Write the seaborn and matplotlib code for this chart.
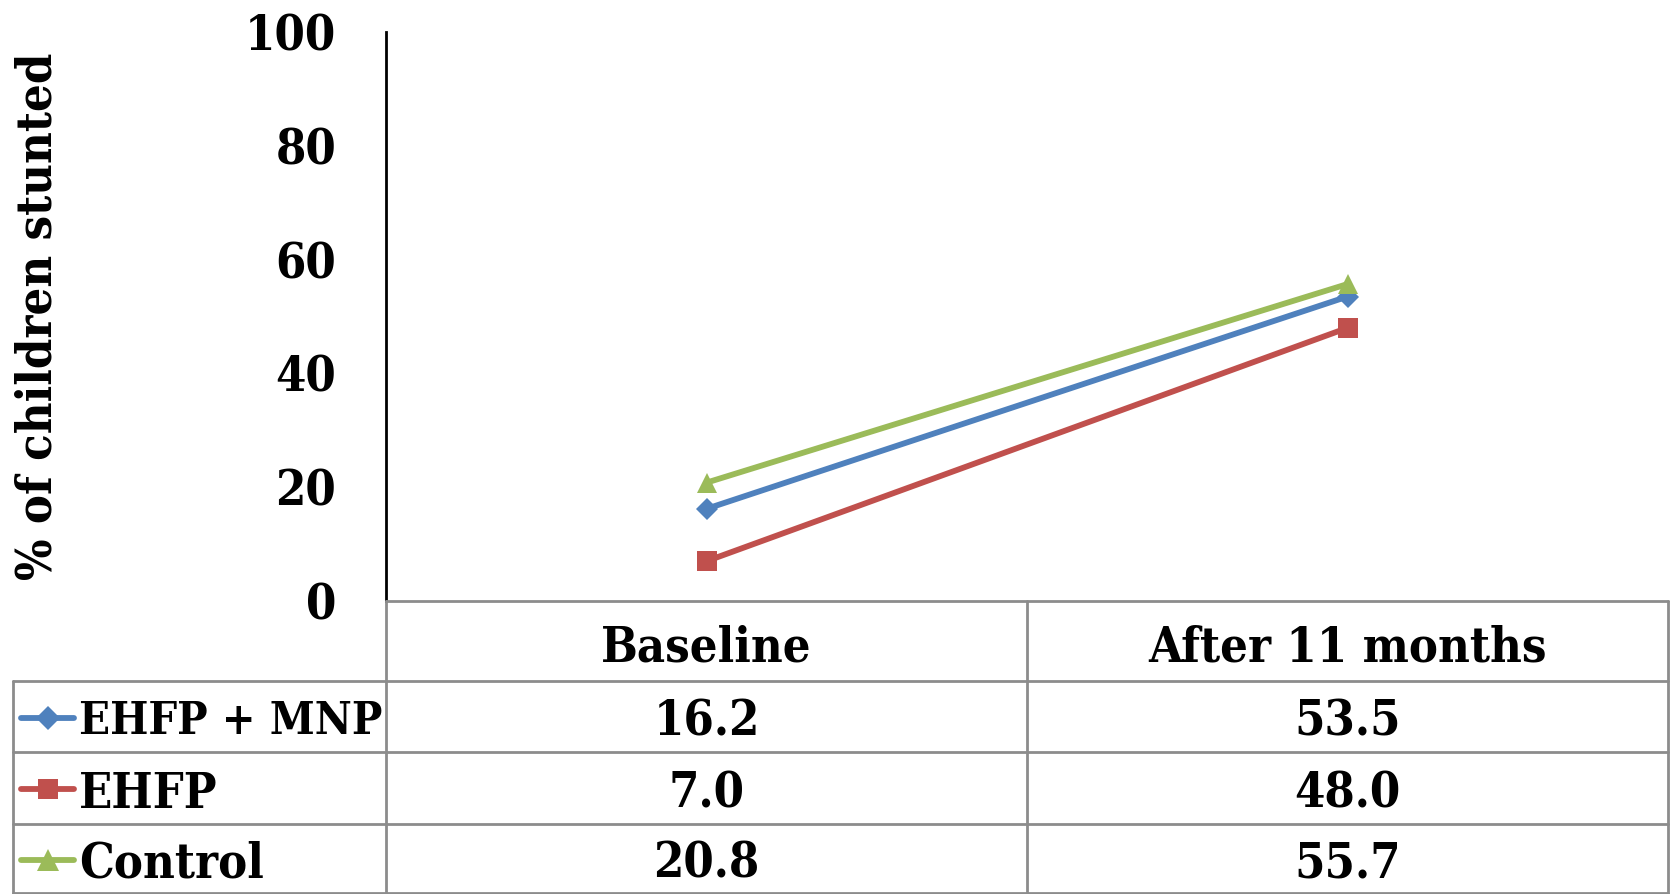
import matplotlib
matplotlib.use("Agg")
import matplotlib.pyplot as plt
from matplotlib.lines import Line2D
import seaborn as sns
import pandas as pd

# Data
periods = ["Baseline", "After 11 months"]
groups = ["EHFP + MNP", "EHFP", "Control"]
ehfp_mnp = [16.2, 53.5]
ehfp = [7.0, 48.0]
control = [20.8, 55.7]
y_ticks = [0, 20, 40, 60, 80, 100]

colors = {"EHFP + MNP": "#4F81BD", "EHFP": "#C0504D", "Control": "#9BBB59"}
markers = {"EHFP + MNP": "D", "EHFP": "s", "Control": "^"}
msizes = {"EHFP + MNP": 11.5, "EHFP": 14, "Control": 15}

df = pd.DataFrame({
    "period": list(range(len(periods))) * 3,
    "value": ehfp_mnp + ehfp + control,
    "group": [g for g in groups for _ in periods],
})

sns.set_theme(style="white")
plt.rcParams["font.family"] = ["DejaVu Serif"]
plt.rcParams["font.weight"] = "bold"
plt.rcParams["text.color"] = "black"
plt.rcParams["axes.labelcolor"] = "black"
plt.rcParams["ytick.color"] = "black"

W, H = 1671, 894
fig = plt.figure(figsize=(W / 100, H / 100), dpi=100)

# pixel layout of the plot area
x0, x1 = 386, 1668
y_top, y_bot = 32, 601
ax = fig.add_axes([x0 / W, (H - y_bot) / H, (x1 - x0) / W, (y_bot - y_top) / H])

for g in groups:
    sub = df[df["group"] == g]
    sns.lineplot(data=sub, x="period", y="value", ax=ax, color=colors[g],
                 marker=markers[g], markersize=msizes[g], markeredgewidth=0,
                 linewidth=4.2, legend=False)

ax.set_xlim(-0.5, len(periods) - 0.5)
ax.set_ylim(0, 100)
ax.set_yticks(y_ticks)
ax.set_yticklabels([str(t) for t in y_ticks], fontsize=35, fontweight="bold",
                   fontstretch="condensed", color="black")
ax.tick_params(axis="y", length=0, pad=36)
ax.set_xticks([])
ax.set_xlabel("")
ax.set_ylabel("% of children stunted", fontsize=35, fontweight="bold",
              fontstretch="condensed", labelpad=0, color="black")
ax.yaxis.set_label_coords(-0.253, 0.5)
for s in ["top", "right"]:
    ax.spines[s].set_visible(False)
ax.spines["left"].set_color("black")
ax.spines["left"].set_linewidth(2)
ax.spines["bottom"].set_visible(False)

# data table below the plot area
tab = fig.add_axes([0, 0, 1, 1])
tab.set_xlim(0, W)
tab.set_ylim(H, 0)
tab.axis("off")
tab.patch.set_alpha(0)

gc = "#8C8C8C"
lw = 2
tl = 13
mid = (x0 + x1) / 2
rows = [601, 681, 752, 824, 893]
# horizontal rules
tab.plot([x0, x1], [rows[0], rows[0]], color=gc, lw=lw)
for r in rows[1:]:
    tab.plot([tl, x1], [r, r], color=gc, lw=lw)
# vertical rules
tab.plot([tl, tl], [rows[1], rows[-1]], color=gc, lw=lw)
for xv in [x0, mid, x1]:
    tab.plot([xv, xv], [rows[0], rows[-1]], color=gc, lw=lw)

col_centers = [(x0 + mid) / 2, (mid + x1) / 2]
txt = dict(fontweight="bold", fontstretch="condensed", color="black",
           va="center_baseline")
for c, p in zip(col_centers, periods):
    tab.text(c, (rows[0] + rows[1]) / 2 + 2, p, ha="center", fontsize=35, **txt)

label_sizes = {"EHFP + MNP": 32.5, "EHFP": 35, "Control": 35}
series = [ehfp_mnp, ehfp, control]
for i, (g, vals) in enumerate(zip(groups, series)):
    yc = (rows[i + 1] + rows[i + 2]) / 2 + 1
    tab.add_line(Line2D([21, 74], [yc, yc], color=colors[g], lw=4.2,
                        solid_capstyle="round"))
    tab.add_line(Line2D([47.5], [yc], color=colors[g], marker=markers[g],
                        markersize=msizes[g] + 1, markeredgewidth=0))
    tab.text(79, yc, g, ha="left", fontsize=label_sizes[g], **txt)
    for c, v in zip(col_centers, vals):
        tab.text(c, yc, f"{v:.1f}", ha="center", fontsize=35, **txt)

fig.savefig("out.png", dpi=100, facecolor="white")
